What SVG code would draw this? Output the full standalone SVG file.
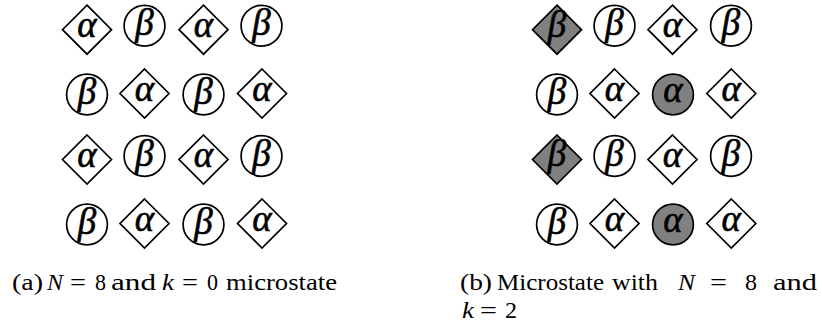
<svg xmlns="http://www.w3.org/2000/svg" width="822" height="326" viewBox="0 0 822 326">
<style>
.d{fill:#fff;stroke:#000;stroke-width:1.7}
.c{fill:#fff;stroke:#000;stroke-width:1.7}
.g{fill:#808080}
.s{font-family:"Liberation Serif","Times New Roman",serif;font-style:italic;font-size:37px;text-anchor:middle;fill:#000;stroke:#000;stroke-width:0.6}
.cap{font-family:"Liberation Serif","Times New Roman",serif;font-size:23px;fill:#000}
.it{font-style:italic}
</style>
<rect width="822" height="326" fill="#fff"/>
<!-- left panel -->
<g id="a-r1c1"><polygon class="d" points="87,5.2 111.5,29.7 87,54.2 62.5,29.7"/><text class="s" x="87" y="37.3">α</text></g>
<g id="a-r1c2"><circle class="c" cx="144.5" cy="25.8" r="20.4"/><text class="s" x="144.5" y="35.3">β</text></g>
<g id="a-r1c3"><polygon class="d" points="203.5,5.2 228,29.7 203.5,54.2 179,29.7"/><text class="s" x="203.5" y="37.3">α</text></g>
<g id="a-r1c4"><circle class="c" cx="261.5" cy="25.8" r="20.4"/><text class="s" x="261.5" y="35.3">β</text></g>

<g id="a-r2c1"><circle class="c" cx="87" cy="94.5" r="20.4"/><text class="s" x="87" y="104">β</text></g>
<g id="a-r2c2"><polygon class="d" points="144.5,69 169,93.5 144.5,118 120,93.5"/><text class="s" x="144.5" y="101.1">α</text></g>
<g id="a-r2c3"><circle class="c" cx="203.5" cy="94.5" r="20.4"/><text class="s" x="203.5" y="104">β</text></g>
<g id="a-r2c4"><polygon class="d" points="262,69 286.5,93.5 262,118 237.5,93.5"/><text class="s" x="262" y="101.1">α</text></g>

<g id="a-r3c1"><polygon class="d" points="87,135 111.5,159.5 87,184 62.5,159.5"/><text class="s" x="87" y="167.1">α</text></g>
<g id="a-r3c2"><circle class="c" cx="144.5" cy="156" r="20.4"/><text class="s" x="144.5" y="165.5">β</text></g>
<g id="a-r3c3"><polygon class="d" points="203.5,135 228,159.5 203.5,184 179,159.5"/><text class="s" x="203.5" y="167.1">α</text></g>
<g id="a-r3c4"><circle class="c" cx="261.5" cy="156" r="20.4"/><text class="s" x="261.5" y="165.5">β</text></g>

<g id="a-r4c1"><circle class="c" cx="87" cy="224.5" r="20.4"/><text class="s" x="87" y="234">β</text></g>
<g id="a-r4c2"><polygon class="d" points="144.5,199 169,223.5 144.5,248 120,223.5"/><text class="s" x="144.5" y="231.1">α</text></g>
<g id="a-r4c3"><circle class="c" cx="203.5" cy="224.5" r="20.4"/><text class="s" x="203.5" y="234">β</text></g>
<g id="a-r4c4"><polygon class="d" points="262,199 286.5,223.5 262,248 237.5,223.5"/><text class="s" x="262" y="231.1">α</text></g>

<!-- right panel -->
<g id="b-r1c1"><polygon class="d g" points="557,5.2 581.5,29.7 557,54.2 532.5,29.7"/><text class="s" x="557" y="36.5">β</text></g>
<g id="b-r1c2"><circle class="c" cx="614.5" cy="25.8" r="20.4"/><text class="s" x="614.5" y="35.3">β</text></g>
<g id="b-r1c3"><polygon class="d" points="672.5,5.2 697,29.7 672.5,54.2 648,29.7"/><text class="s" x="672.5" y="37.3">α</text></g>
<g id="b-r1c4"><circle class="c" cx="731" cy="25.8" r="20.4"/><text class="s" x="731" y="35.3">β</text></g>

<g id="b-r2c1"><circle class="c" cx="557" cy="94.5" r="20.4"/><text class="s" x="557" y="104">β</text></g>
<g id="b-r2c2"><polygon class="d" points="614.5,69 639,93.5 614.5,118 590,93.5"/><text class="s" x="614.5" y="101.1">α</text></g>
<g id="b-r2c3"><circle class="c g" cx="673" cy="94.5" r="20.4"/><text class="s" x="673" y="101.7">α</text></g>
<g id="b-r2c4"><polygon class="d" points="731.3,69 755.8,93.5 731.3,118 706.8,93.5"/><text class="s" x="731.3" y="101.1">α</text></g>

<g id="b-r3c1"><polygon class="d g" points="557,135 581.5,159.5 557,184 532.5,159.5"/><text class="s" x="557" y="166.3">β</text></g>
<g id="b-r3c2"><circle class="c" cx="614.5" cy="156" r="20.4"/><text class="s" x="614.5" y="165.5">β</text></g>
<g id="b-r3c3"><polygon class="d" points="672.5,135 697,159.5 672.5,184 648,159.5"/><text class="s" x="672.5" y="167.1">α</text></g>
<g id="b-r3c4"><circle class="c" cx="731" cy="156" r="20.4"/><text class="s" x="731" y="165.5">β</text></g>

<g id="b-r4c1"><circle class="c" cx="557" cy="224.5" r="20.4"/><text class="s" x="557" y="234">β</text></g>
<g id="b-r4c2"><polygon class="d" points="614.5,199 639,223.5 614.5,248 590,223.5"/><text class="s" x="614.5" y="231.1">α</text></g>
<g id="b-r4c3"><circle class="c g" cx="673" cy="224.5" r="20.4"/><text class="s" x="673" y="231.7">α</text></g>
<g id="b-r4c4"><polygon class="d" points="731.3,199 755.8,223.5 731.3,248 706.8,223.5"/><text class="s" x="731.3" y="231.1">α</text></g>

<!-- captions -->
<g id="caption-a" class="cap">
<text x="12" y="290" textLength="31" lengthAdjust="spacingAndGlyphs">(a)</text>
<text x="47" y="290" class="it" textLength="16" lengthAdjust="spacingAndGlyphs">N</text>
<text x="70" y="290" textLength="16" lengthAdjust="spacingAndGlyphs">=</text>
<text x="95" y="290" textLength="11" lengthAdjust="spacingAndGlyphs">8</text>
<text x="111" y="290" textLength="45" lengthAdjust="spacingAndGlyphs">and</text>
<text x="162" y="290" class="it" textLength="12" lengthAdjust="spacingAndGlyphs">k</text>
<text x="182" y="290" textLength="16" lengthAdjust="spacingAndGlyphs">=</text>
<text x="207" y="290" textLength="11" lengthAdjust="spacingAndGlyphs">0</text>
<text x="226" y="290" textLength="111" lengthAdjust="spacingAndGlyphs">microstate</text>
</g>
<g id="caption-b" class="cap">
<text x="460" y="290" textLength="32" lengthAdjust="spacingAndGlyphs">(b)</text>
<text x="497" y="290" textLength="107" lengthAdjust="spacingAndGlyphs">Microstate</text>
<text x="612" y="290" textLength="46" lengthAdjust="spacingAndGlyphs">with</text>
<text x="678" y="290" class="it" textLength="17" lengthAdjust="spacingAndGlyphs">N</text>
<text x="710" y="290" textLength="17" lengthAdjust="spacingAndGlyphs">=</text>
<text x="745" y="290" textLength="12" lengthAdjust="spacingAndGlyphs">8</text>
<text x="773" y="290" textLength="44" lengthAdjust="spacingAndGlyphs">and</text>
<text x="462" y="318" class="it" textLength="12" lengthAdjust="spacingAndGlyphs">k</text>
<text x="480" y="318" textLength="17" lengthAdjust="spacingAndGlyphs">=</text>
<text x="505" y="318" textLength="12" lengthAdjust="spacingAndGlyphs">2</text>
</g>
</svg>
